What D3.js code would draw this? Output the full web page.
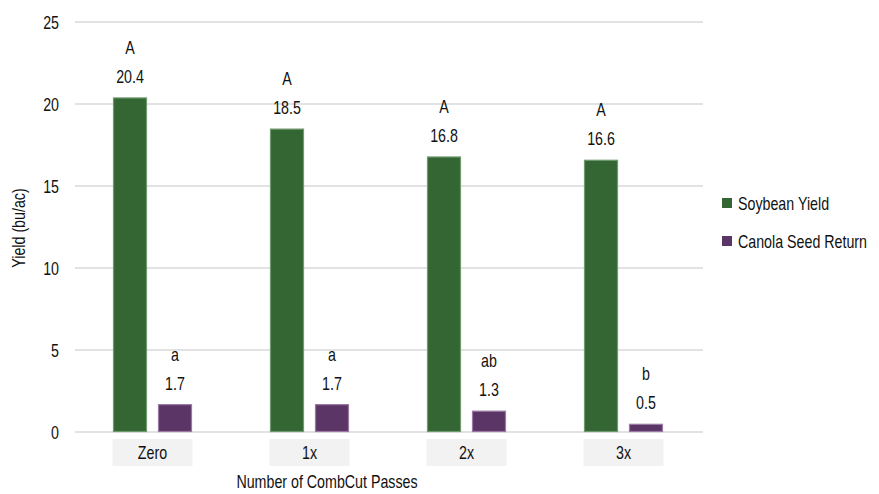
<!DOCTYPE html>
<html><head><meta charset="utf-8">
<script src="https://cdn.jsdelivr.net/npm/d3@7/dist/d3.min.js"></script>
<style>
body{margin:0;background:#fff;}
text{font-family:"Liberation Sans",Arial,sans-serif;fill:#111;}
</style></head><body>
<svg id="c" width="879" height="494"></svg>
<script>
const categories = ["Zero","1x","2x","3x"];
const seriesNames = ["Soybean Yield","Canola Seed Return"];
const soybean = [20.4, 18.5, 16.8, 16.6];
const canola = [1.7, 1.7, 1.3, 0.5];
const soyLetters = ["A","A","A","A"];
const canolaLetters = ["a","a","ab","b"];
const yTicks = [0,5,10,15,20,25];
const colors = ["#336633","#5b3566"];
const strokes = ["#6f9a6f","#9a7aa3"];

const SX = 0.75, FS = 19;
const svg = d3.select("#c");
const x = d3.scaleBand().domain(categories).range([75,703]);
const y = d3.scaleLinear().domain([0,25]).range([432,22]);
const barW = 34, gap = 11;

function cond(sel, fx, fy, rot){
  sel.attr("transform",(d,i)=>`translate(${fx(d,i)},${fy(d,i)})${rot?" rotate("+rot+")":""} scale(${SX},1)`)
     .attr("dy","0.35em").attr("font-size",FS);
  return sel;
}

svg.append("g").selectAll("line").data(yTicks).join("line")
  .attr("x1",75).attr("x2",703).attr("y1",d=>y(d)).attr("y2",d=>y(d))
  .attr("stroke","#d9d9d9").attr("stroke-width",1.3);
cond(svg.append("g").selectAll("text").data(yTicks).join("text"), d=>59, d=>y(d))
  .attr("text-anchor","end").text(d=>d);

const series = [soybean, canola];
const letters = [soyLetters, canolaLetters];
series.forEach((vals,si)=>{
  const g = svg.append("g");
  const bx = (i)=> x(categories[i]) + x.bandwidth()/2 + (si===0 ? -gap/2-barW : gap/2) - 1;
  g.selectAll("rect").data(vals).join("rect")
    .attr("x",(d,i)=>bx(i)+0.5).attr("y",d=>y(d)+0.5)
    .attr("width",barW-1).attr("height",d=>y(0)-y(d)-1)
    .attr("fill",colors[si]).attr("stroke",strokes[si]).attr("stroke-width",1.2);
  cond(g.selectAll("text.v").data(vals).join("text").attr("class","v"),
    (d,i)=>bx(i)+barW/2, d=>y(d)-21)
    .attr("text-anchor","middle").text(d=>d.toFixed(1));
  cond(g.selectAll("text.l").data(letters[si]).join("text").attr("class","l"),
    (d,i)=>bx(i)+barW/2, (d,i)=>y(vals[i])-50)
    .attr("text-anchor","middle").text(d=>d);
});

const cg = svg.append("g");
cg.selectAll("rect").data(categories).join("rect")
  .attr("x",d=>x(d)+x.bandwidth()/2-41).attr("y",439).attr("width",80).attr("height",27)
  .attr("fill","#f2f2f2");
cond(cg.selectAll("text").data(categories).join("text"), d=>x(d)+x.bandwidth()/2-1, d=>452)
  .attr("text-anchor","middle").text(d=>d);

cond(svg.append("text"), ()=>327, ()=>481).attr("text-anchor","middle").text("Number of CombCut Passes");
cond(svg.append("text"), ()=>18, ()=>228, -90).attr("text-anchor","middle").text("Yield (bu/ac)");

const lg = svg.append("g").selectAll("g").data(seriesNames).join("g")
  .attr("transform",(d,i)=>`translate(722,${203+i*38})`);
lg.append("rect").attr("x",0).attr("y",-5).attr("width",10).attr("height",10).attr("fill",(d,i)=>colors[i]);
cond(lg.append("text"), ()=>16, ()=>0).text(d=>d);
</script></body></html>
